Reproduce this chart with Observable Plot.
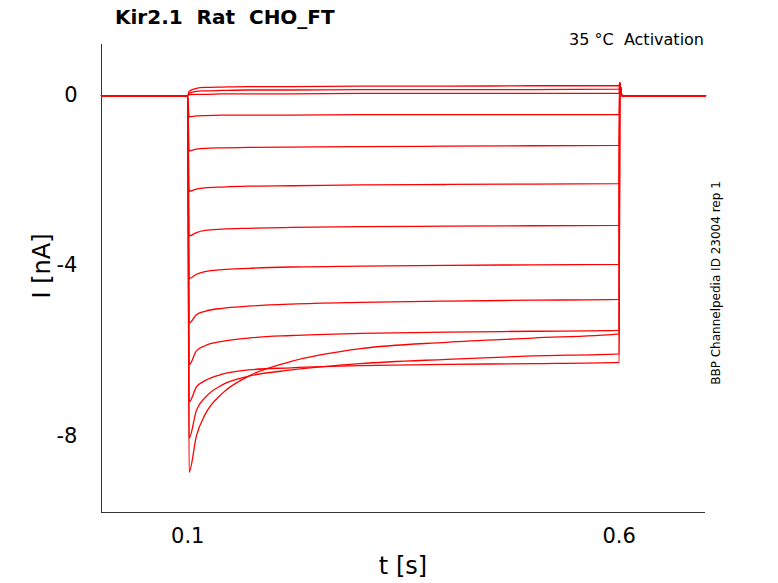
<!DOCTYPE html>
<html><head><meta charset="utf-8">
<script src="https://cdn.jsdelivr.net/npm/d3@7"></script>
<script src="https://cdn.jsdelivr.net/npm/@observablehq/plot@0.6"></script>
<style>
body{margin:0;background:#fff;font-family:"DejaVu Sans",sans-serif;}
#wrap{position:relative;width:778px;height:583px;}
.t{position:absolute;white-space:nowrap;color:#000;}
</style></head><body>
<div id="wrap">
<div class="t" style="left:115px;top:5px;font-size:20px;font-weight:bold;">Kir2.1&nbsp; Rat&nbsp; CHO_FT</div>
<div class="t" style="right:74px;top:30px;font-size:16px;">35 °C&nbsp; Activation</div>
<div class="t" style="left:716px;top:283px;font-size:12px;transform:translate(-50%,-50%) rotate(-90deg);">BBP Channelpedia ID 23004 rep 1</div>
<div class="t" style="left:403px;top:566px;font-size:24px;transform:translate(-50%,-50%);">t [s]</div>
<div class="t" style="left:42px;top:266px;font-size:24px;transform:translate(-50%,-50%) rotate(-90deg);">I [nA]</div>
</div>
<script>
const stepTimes = [0.1015, 0.11, 0.12, 0.14, 0.17, 0.22, 0.3, 0.4, 0.5, 0.6];
const traces = [
  [0.1,0.17,0.19,0.2,0.21,0.21,0.22,0.22,0.23,0.23],
  [0.05,0.1,0.11,0.12,0.13,0.13,0.14,0.14,0.14,0.15],
  [0.02,0.03,0.03,0.04,0.04,0.04,0.05,0.05,0.05,0.05],
  [-0.5,-0.48,-0.47,-0.46,-0.46,-0.46,-0.45,-0.45,-0.45,-0.45],
  [-1.3,-1.26,-1.24,-1.23,-1.22,-1.21,-1.2,-1.19,-1.18,-1.17],
  [-2.25,-2.2,-2.17,-2.15,-2.13,-2.12,-2.1,-2.09,-2.08,-2.07],
  [-3.3,-3.22,-3.17,-3.14,-3.12,-3.1,-3.08,-3.07,-3.06,-3.05],
  [-4.3,-4.2,-4.14,-4.09,-4.06,-4.03,-4.01,-3.99,-3.98,-3.97],
  [-5.35,-5.15,-5.07,-5.0,-4.95,-4.9,-4.86,-4.83,-4.81,-4.79],
  [-6.33,-6.0,-5.88,-5.78,-5.7,-5.64,-5.59,-5.56,-5.54,-5.52],
  [-7.2,-6.85,-6.7,-6.55,-6.45,-6.4,-6.35,-6.32,-6.3,-6.27],
  [-8.05,-7.4,-7.1,-6.8,-6.6,-6.45,-6.3,-6.2,-6.12,-6.07],
  [-8.85,-8.0,-7.5,-7.0,-6.6,-6.25,-5.95,-5.8,-5.7,-5.6]
];
const preTimes = [0, 0.0995, 0.1];
const preValues = [0, 0, 0];
const postTimes = [0.6005, 0.603, 0.7];
const postValues = [0.3, 0.0, 0];
const xTicks = [0.1, 0.6];
const yTicks = [0, -4, -8];

const rows = [];
traces.forEach((vals, k) => {
  preTimes.forEach((t, i) => rows.push({k, t, v: preValues[i]}));
  stepTimes.forEach((t, i) => rows.push({k, t, v: vals[i]}));
  postTimes.forEach((t, i) => rows.push({k, t, v: postValues[i]}));
});

const plot = Plot.plot({
  width: 778, height: 583,
  marginLeft: 101, marginRight: 73, marginTop: 44, marginBottom: 71,
  style: {fontFamily: "DejaVu Sans", fontSize: "21px", background: "transparent"},
  x: {domain: [0, 0.7], ticks: xTicks, tickFormat: d => String(d), tickSize: 0, tickPadding: 16, label: null},
  y: {domain: [-9.8, 1.2], ticks: yTicks, tickFormat: d => String(d), tickSize: 0, tickPadding: 24, label: null},
  marks: [
    Plot.ruleX([0], {stroke: "#000", strokeWidth: 0.8}),
    Plot.ruleY([-9.8], {stroke: "#000", strokeWidth: 0.8}),
    Plot.line(rows, {x: "t", y: "v", z: "k", stroke: "#ff0000", strokeWidth: 1.3, curve: "monotone-x"})
  ]
});
document.getElementById("wrap").prepend(plot);
plot.style.position = "absolute"; plot.style.left = "0"; plot.style.top = "0";
</script>
</body></html>
